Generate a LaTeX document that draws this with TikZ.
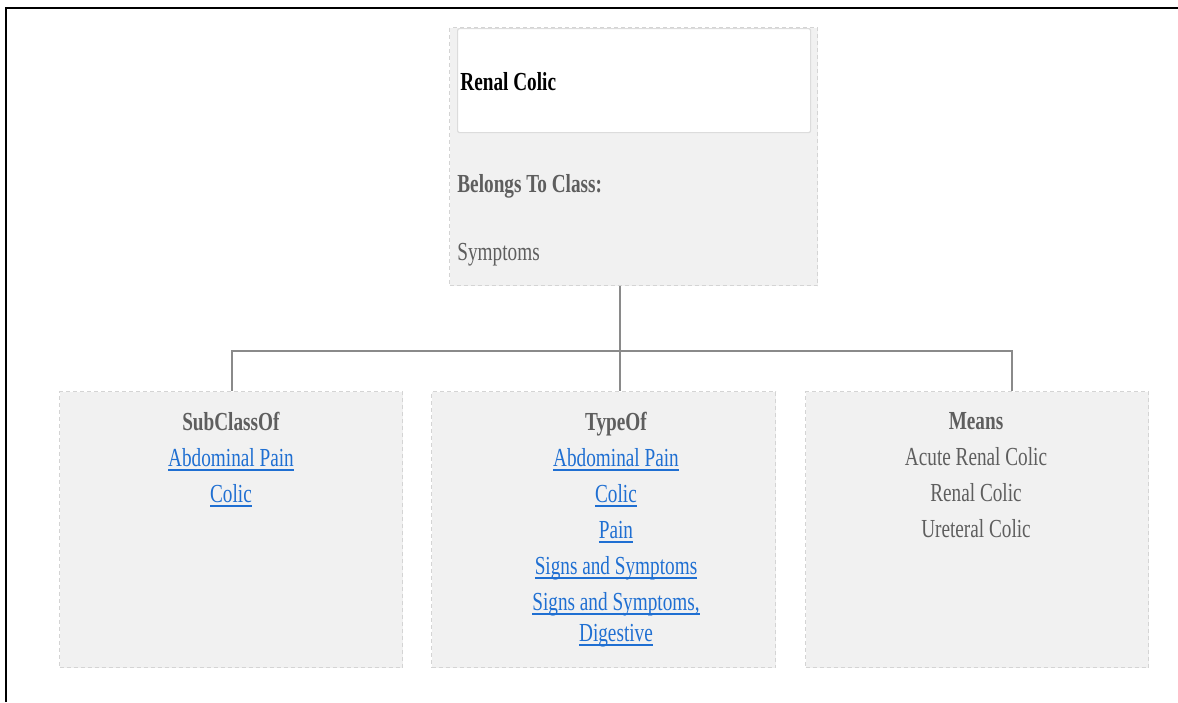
\documentclass[tikz,border=0pt]{standalone}
\usepackage{fontspec}
\setmainfont{Liberation Serif}[FakeStretch=0.74]
\usepackage{tikz}
\usetikzlibrary{positioning,calc}

\definecolor{panelgrey}{HTML}{F1F1F1}
\definecolor{dashgrey}{HTML}{D4D4D4}
\definecolor{edgegrey}{HTML}{DCDCDC}
\definecolor{textgrey}{HTML}{5E5E5E}
\definecolor{linkblue}{HTML}{1F6FD2}
\definecolor{wiregrey}{HTML}{8A8A8A}

% blue underlined entry
\newcommand\linkword[1]{\textcolor{linkblue}{\setbox0\hbox{#1}\rlap{\rule[-2pt]{\wd0}{0.75pt}}\box0}}

\begin{document}
\begin{tikzpicture}[x=0.5pt, y=-0.5pt,
  every node/.style={font=\fontsize{13}{18}\selectfont},
  panel/.style={draw=dashgrey, dash pattern=on 2pt off 1.5pt, fill=panelgrey, line width=0.6pt, inner sep=0pt, anchor=north west},
  titlebox/.style={draw=edgegrey, fill=white, line width=0.6pt, inner sep=0pt, anchor=north west, rounded corners=1pt},
  heading/.style={inner sep=0pt, text=textgrey, font=\fontsize{13}{18}\selectfont\bfseries},
  entry/.style={inner sep=0pt, text=textgrey},
  column/.style={inner sep=0pt, align=center, anchor=north, text=textgrey},
  wire/.style={draw=wiregrey, line width=1.2pt}]
\useasboundingbox (0,0) rectangle (1178,702);
\draw[line width=1.2pt] (6,702) -- (6,8) -- (1178,8);

% concept card
\node[panel, minimum width=184pt, minimum height=129pt] (card) at (449,27) {};
\node[titlebox, minimum width=176.5pt, minimum height=52pt] (title) at (457,28) {};
\node[heading, text=black, anchor=base west] (name) at (460,90) {Renal Colic};
\node[heading, anchor=base west] (classlbl) at (457,192) {Belongs To Class:};
\node[entry, anchor=base west] (classval) at (457,260) {Symptoms};

% relation panels
\node[panel, minimum width=171.5pt, minimum height=138pt] (subpanel) at (59,391) {};
\node[panel, minimum width=172pt, minimum height=138pt] (typepanel) at (431,391) {};
\node[panel, minimum width=171.5pt, minimum height=138pt] (meanpanel) at (805,391) {};

\node[column] (sublist) at (231,412) {\textbf{SubClassOf}\\ \linkword{Abdominal Pain}\\ \linkword{Colic}};
\node[column] (typelist) at (616,412) {\textbf{TypeOf}\\ \linkword{Abdominal Pain}\\ \linkword{Colic}\\ \linkword{Pain}\\ \linkword{Signs and Symptoms}\\ \linkword{Signs and Symptoms,}\\[-2.5pt] \linkword{Digestive}};
\node[column] (meanlist) at (976,412) {\textbf{Means}\\ Acute Renal Colic\\ Renal Colic\\ Ureteral Colic};

% tree connectors
\coordinate (hub) at (620,351);
\coordinate (leftdrop) at (232,351);
\coordinate (rightdrop) at (1012,351);
\draw[wire] (card.south -| hub) -- (hub);
\draw[wire] (subpanel.north -| leftdrop) -- (leftdrop) -- (rightdrop) -- (meanpanel.north -| rightdrop);
\draw[wire] (hub) -- (typepanel.north -| hub);
\end{tikzpicture}
\end{document}
